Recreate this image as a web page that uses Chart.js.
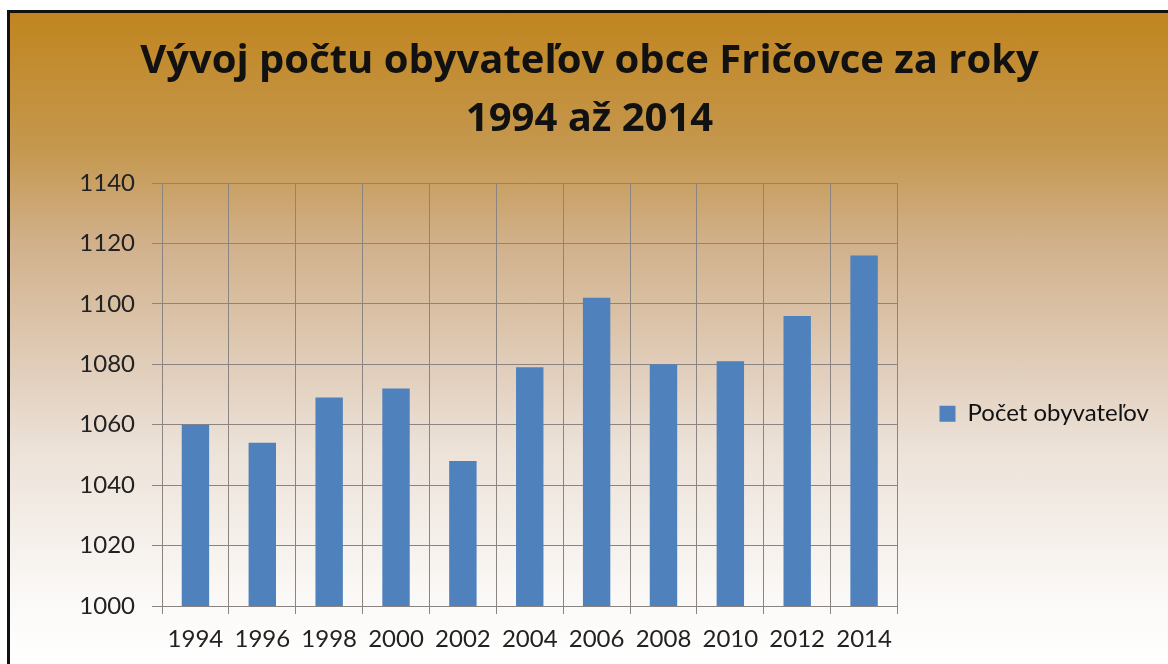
<!DOCTYPE html>
<html>
<head>
<meta charset="utf-8">
<script src="https://cdn.jsdelivr.net/npm/chart.js@4"></script>
<style>
  html, body { margin: 0; padding: 0; background: #fff; }
  #wrap { position: relative; width: 1168px; height: 664px; overflow: hidden; }
  #bg {
    position: absolute; left: 7px; top: 10px; right: 0; bottom: 0;
    border-top: 3px solid #111; border-left: 3px solid #111;
    background: linear-gradient(to bottom, #C0851F 0%, #C5984F 21%, #D1B08A 35%, #E2D0BE 56%, #ECE2D8 67%, #FBF9F7 90%, #FFFFFF 100%);
  }
  #chart { position: absolute; left: 0; top: 0; }
</style>
</head>
<body>
<div id="wrap">
  <div id="bg"></div>
  <canvas id="chart" width="1168" height="664"></canvas>
</div>
<script>
const years = ["1994", "1996", "1998", "2000", "2002", "2004", "2006", "2008", "2010", "2012", "2014"];
const population = [1060, 1054, 1069, 1072, 1048, 1079, 1102, 1080, 1081, 1096, 1116];
const seriesName = "Počet obyvateľov";
const titleLines = ["Vývoj počtu obyvateľov obce Fričovce za roky", "1994 až 2014"];

const gridColor = "#8a8580";

new Chart(document.getElementById("chart"), {
  type: 'bar',
  data: {
    labels: years,
    datasets: [{
      label: seriesName,
      backgroundColor: "#4F81BD",
      data: population,
      barPercentage: 0.41,
      categoryPercentage: 1
    }]
  },
  options: {
    responsive: false,
    animation: false,
    layout: { padding: { left: 20, right: 9, bottom: 0, top: 0 } },
    plugins: {
      legend: {
        position: 'right',
        fullSize: false,
        // empty title only used as a spacer to push the item down
        title: { display: true, text: ' ', padding: { top: 12, bottom: 12 } },
        labels: {
          boxWidth: 16,
          boxHeight: 16,
          padding: 42,
          color: "#111",
          font: { family: "Lato", size: 24 }
        }
      },
      tooltip: { enabled: false },
      title: {
        display: true,
        text: titleLines,
        color: "#111",
        font: { family: "Open Sans", size: 40, weight: "bold", lineHeight: 1.45 },
        padding: { top: 33, bottom: 34 }
      }
    },
    scales: {
      x: {
        grid: { color: gridColor, lineWidth: 1, tickLength: 8, offset: true },
        border: { color: gridColor },
        ticks: { color: "#222", font: { family: "Lato", size: 24, lineHeight: 1 }, padding: 13 }
      },
      y: {
        min: 1000,
        max: 1140,
        afterFit: (scale) => { scale.width = 142; },
        grid: { color: gridColor, lineWidth: 1, tickLength: 10 },
        border: { color: gridColor },
        ticks: {
          stepSize: 20,
          color: "#222",
          font: { family: "Lato", size: 24 },
          padding: 17,
          callback: (v) => String(v)
        }
      }
    }
  }
});
</script>
</body>
</html>
